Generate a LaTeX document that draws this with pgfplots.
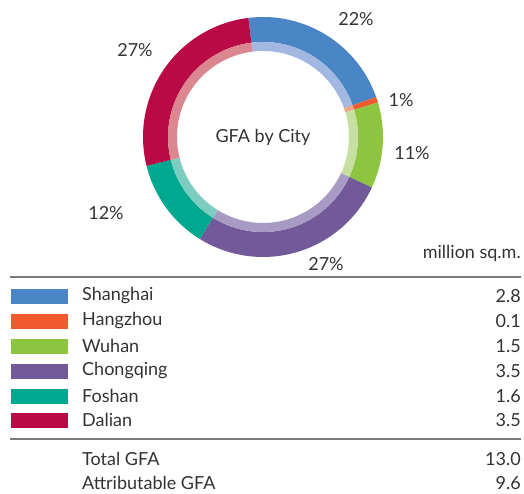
\documentclass[border=0pt]{standalone}
\usepackage{pgfplots}
\pgfplotsset{compat=1.18}
\usepackage{pgfplotstable}
\usepackage{fontspec}
\setmainfont{Lato}

\definecolor{cSha}{HTML}{4A86C6}\definecolor{lSha}{HTML}{A2B8E0}
\definecolor{cHan}{HTML}{F15A2F}\definecolor{lHan}{HTML}{F6A385}
\definecolor{cWuh}{HTML}{8DC540}\definecolor{lWuh}{HTML}{C6E0A2}
\definecolor{cCho}{HTML}{725A9A}\definecolor{lCho}{HTML}{A89BC3}
\definecolor{cFos}{HTML}{00A890}\definecolor{lFos}{HTML}{7CCDC0}
\definecolor{cDal}{HTML}{BA0A46}\definecolor{lDal}{HTML}{DB8790}
\definecolor{txt}{HTML}{333333}
\definecolor{rule}{HTML}{7A7A7A}
\tikzset{lbl/.style={font=\fontsize{18}{21}\selectfont, text=txt, inner sep=0pt}}

\pgfplotstableread{
city value
Shanghai 2.8
Hangzhou 0.1
Wuhan 1.5
Chongqing 3.5
Foshan 1.6
Dalian 3.5
}\gfadata

\xdef\curang{97}
\foreach \i in {0,...,5}{%
  \pgfplotstablegetelem{\i}{value}\of\gfadata
  \pgfmathsetmacro\nextang{\curang-360*\pgfplotsretval/13.0}%
  \expandafter\xdef\csname angS\i\endcsname{\curang}%
  \expandafter\xdef\csname angE\i\endcsname{\nextang}%
  \xdef\curang{\nextang}%
}

\newcommand\seg[3]{%
  \fill[#2] ([shift={(\csname angS#1\endcsname:120pt)}]axis cs:263,356)
    arc[start angle=\csname angS#1\endcsname, end angle=\csname angE#1\endcsname, radius=120pt]
    -- ([shift={(\csname angE#1\endcsname:95pt)}]axis cs:263,356)
    arc[start angle=\csname angE#1\endcsname, end angle=\csname angS#1\endcsname, radius=95pt] -- cycle;
  \fill[#3] ([shift={(\csname angS#1\endcsname:95pt)}]axis cs:263,356)
    arc[start angle=\csname angS#1\endcsname, end angle=\csname angE#1\endcsname, radius=95pt]
    -- ([shift={(\csname angE#1\endcsname:86pt)}]axis cs:263,356)
    arc[start angle=\csname angE#1\endcsname, end angle=\csname angS#1\endcsname, radius=86pt] -- cycle;
}
\newcommand\row[4]{% y, colour, name, value
  \fill[#2] (axis cs:11,#1-7.5) rectangle (axis cs:68,#1+7.5);
  \node[lbl,anchor=west] at (axis cs:82,#1) {#3};
  \node[lbl,anchor=east] at (axis cs:521,#1) {#4};
}

\begin{document}
\begin{tikzpicture}
\begin{axis}[x=1pt,y=1pt,xmin=0,xmax=524,ymin=0,ymax=493,
  hide axis,clip=false,scale only axis]
\seg{0}{cSha}{lSha}
\seg{1}{cHan}{lHan}
\seg{2}{cWuh}{lWuh}
\seg{3}{cCho}{lCho}
\seg{4}{cFos}{lFos}
\seg{5}{cDal}{lDal}
\node[lbl] at (axis cs:263,356) {GFA by City};
\node[lbl] at (axis cs:356,474) {22\%};
\node[lbl] at (axis cs:401,393) {1\%};
\node[lbl] at (axis cs:412,340) {11\%};
\node[lbl] at (axis cs:326,229) {27\%};
\node[lbl] at (axis cs:106,280) {12\%};
\node[lbl] at (axis cs:135,443) {27\%};
\node[lbl,anchor=east] at (axis cs:521,240) {million sq.m.};
\draw[rule,line width=2pt] (axis cs:10,216) -- (axis cs:521,216);
\row{197}{cSha}{Shanghai}{2.8}
\row{172}{cHan}{Hangzhou}{0.1}
\row{147}{cWuh}{Wuhan}{1.5}
\row{122}{cCho}{Chongqing}{3.5}
\row{97}{cFos}{Foshan}{1.6}
\row{73}{cDal}{Dalian}{3.5}
\draw[rule,line width=2pt] (axis cs:10,54) -- (axis cs:521,54);
\node[lbl,anchor=west] at (axis cs:82,34) {Total GFA};
\node[lbl,anchor=east] at (axis cs:521,34) {13.0};
\node[lbl,anchor=west] at (axis cs:82,10) {Attributable GFA};
\node[lbl,anchor=east] at (axis cs:521,10) {9.6};
\end{axis}
\pgfresetboundingbox
\path (current axis.south west) rectangle (current axis.north east);
\end{tikzpicture}
\end{document}
